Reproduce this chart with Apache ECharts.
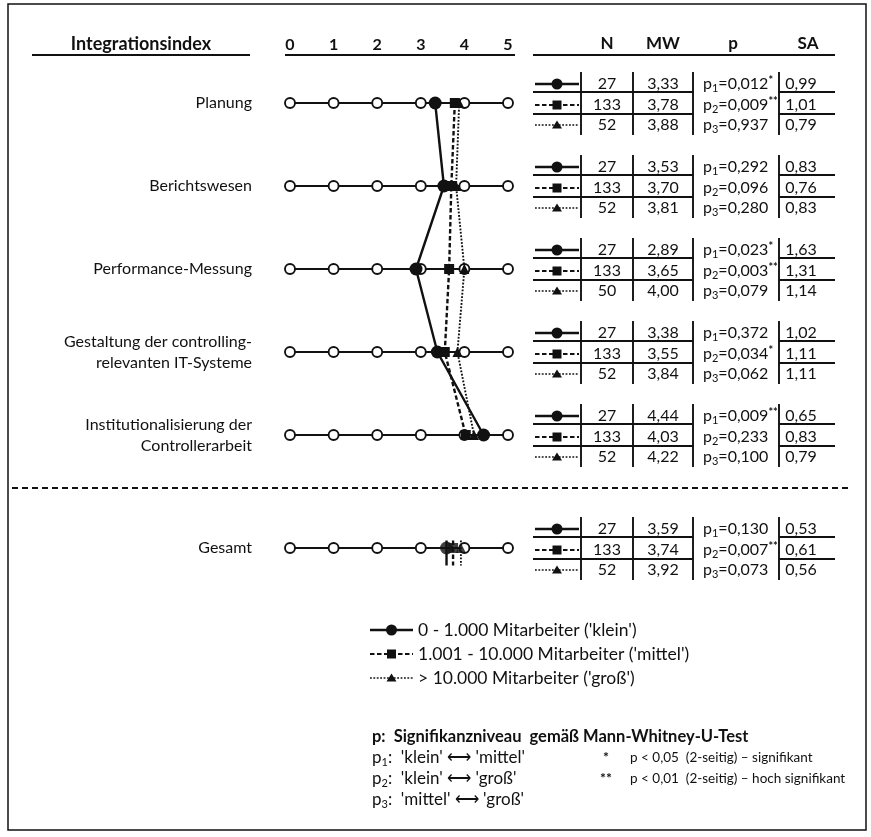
<!DOCTYPE html>
<html><head><meta charset="utf-8">
<script src="https://cdn.jsdelivr.net/npm/echarts@6/dist/echarts.min.js"></script>
<style>html,body{margin:0;padding:0;background:#fff}#c{width:871px;height:837px}</style>
</head><body><div id="c"></div>
<script>
// ---------------- DATA ----------------
const categories = ['Planung', 'Berichtswesen', 'Performance-Messung',
  'Gestaltung der controlling-\nrelevanten IT-Systeme',
  'Institutionalisierung der\nControllerarbeit'];
const totalLabel = 'Gesamt';
const tickValues = [0, 1, 2, 3, 4, 5];
const seriesNames = ["0 - 1.000 Mitarbeiter ('klein')", "1.001 - 10.000 Mitarbeiter ('mittel')", "> 10.000 Mitarbeiter ('groß')"];

// Mittelwerte (MW): 5 Kategorien, dann Gesamt
const mwKlein  = [3.33, 3.53, 2.89, 3.38, 4.44];
const mwMittel = [3.78, 3.70, 3.65, 3.55, 4.03];
const mwGross  = [3.88, 3.81, 4.00, 3.84, 4.22];
const mwTotal  = [3.59, 3.74, 3.92];

// N (incl. Gesamt als letzter Wert)
const nKlein  = [27, 27, 27, 27, 27, 27];
const nMittel = [133, 133, 133, 133, 133, 133];
const nGross  = [52, 52, 50, 52, 52, 52];

// SA (incl. Gesamt)
const saKlein  = [0.99, 0.83, 1.63, 1.02, 0.65, 0.53];
const saMittel = [1.01, 0.76, 1.31, 1.11, 0.83, 0.61];
const saGross  = [0.79, 0.83, 1.14, 1.11, 0.79, 0.56];

// p-Werte (incl. Gesamt) und Signifikanzsterne
const p1 = ['0,012', '0,292', '0,023', '0,372', '0,009', '0,130'];
const p1Sig = ['*', '', '*', '', '**', ''];
const p2 = ['0,009', '0,096', '0,003', '0,034', '0,233', '0,007'];
const p2Sig = ['**', '', '**', '*', '', '**'];
const p3 = ['0,937', '0,280', '0,079', '0,062', '0,100', '0,073'];
const p3Sig = ['', '', '', '', '', ''];

// ---------------- STYLE ----------------
const INK = '#111';
const FONT = 'Lato, "Open Sans", sans-serif';
const styles = [
  { symbol: 'circle', size: 13, width: 2.4, type: 'solid', dash: null, iconW: 2.4 },
  { symbol: 'rect', size: 10, width: 2.4, type: [4.5, 2.5], dash: [4.5, 2.5], iconW: 2.2 },
  { symbol: 'triangle', size: 10, width: 1.9, type: [1.8, 1.6], dash: [1.8, 1.6], iconW: 1.6 }
];
const mwSets = [mwKlein, mwMittel, mwGross];
const nSets = [nKlein, nMittel, nGross];
const saSets = [saKlein, saMittel, saGross];
const pSets = [p1, p2, p3];
const pSigSets = [p1Sig, p2Sig, p3Sig];
const stub = [-0.18, 0.42];   // short vertical stroke through Gesamt markers (style)

const fmt = v => v.toFixed(2).replace('.', ',');

const chart = echarts.init(document.getElementById('c'), null, { renderer: 'canvas' });

const GRID_LEFT = 290, GRID_W = 218;
const series = [];
// track lines with open circles
categories.forEach(c => series.push({
  type: 'line', xAxisIndex: 0, yAxisIndex: 0, silent: true, z: 2,
  data: tickValues.map(t => [t, c]),
  symbol: 'circle', symbolSize: 10, showSymbol: true,
  itemStyle: { color: '#fff', borderColor: INK, borderWidth: 1.9 },
  lineStyle: { color: INK, width: 1.8 }
}));
series.push({
  type: 'line', xAxisIndex: 1, yAxisIndex: 2, silent: true, z: 2,
  data: tickValues.map(t => [t, 0]),
  symbol: 'circle', symbolSize: 10,
  itemStyle: { color: '#fff', borderColor: INK, borderWidth: 1.9 },
  lineStyle: { color: INK, width: 1.8 }
});
// group profiles
mwSets.forEach((mw, k) => {
  const s = styles[k];
  series.push({
    type: 'line', name: seriesNames[k], xAxisIndex: 0, yAxisIndex: 0, z: 5 + k,
    data: categories.map((c, i) => [mw[i], c]),
    symbol: s.symbol, symbolSize: s.size,
    itemStyle: { color: INK },
    lineStyle: { color: INK, width: s.width, type: s.type }
  });
  series.push({
    type: 'line', xAxisIndex: 1, yAxisIndex: 2, z: 5 + k, symbol: 'none',
    data: [[mwTotal[k], stub[0]], [mwTotal[k], stub[1]]],
    lineStyle: { color: INK, width: s.width, type: s.type }
  });
  series.push({
    type: 'scatter', xAxisIndex: 1, yAxisIndex: 2, z: 8 + k,
    data: [[mwTotal[k], 0]], symbol: s.symbol, symbolSize: s.size,
    itemStyle: { color: INK }
  });
});

const option = {
  animation: false,
  backgroundColor: '#fff',
  textStyle: { fontFamily: FONT, color: INK },
  grid: [
    { left: GRID_LEFT, width: GRID_W, top: 61.5, height: 415 },
    { left: GRID_LEFT, width: GRID_W, top: 506.5, height: 83 }
  ],
  xAxis: [
    { gridIndex: 0, type: 'value', min: 0, max: 5, interval: 1, position: 'top',
      axisLine: { show: false }, axisTick: { show: false }, splitLine: { show: false },
      axisLabel: { margin: 9, fontFamily: FONT, fontWeight: 'bold', fontSize: 16, color: INK } },
    { gridIndex: 1, type: 'value', min: 0, max: 5, show: false }
  ],
  yAxis: [
    { gridIndex: 0, type: 'category', inverse: true, data: categories,
      axisLine: { show: false }, axisTick: { show: false }, splitLine: { show: false },
      axisLabel: { margin: 38, fontFamily: FONT, fontSize: 16, color: INK, lineHeight: 21, align: 'right' } },
    { gridIndex: 1, type: 'category', data: [totalLabel],
      axisLine: { show: false }, axisTick: { show: false }, splitLine: { show: false },
      axisLabel: { margin: 38, fontFamily: FONT, fontSize: 16, color: INK } },
    { gridIndex: 1, type: 'value', min: -1, max: 1, inverse: true, show: false }
  ],
  series
};
chart.setOption(option);

// ---------------- TABLE + TEXT (graphic) ----------------
const G = [];
const line = (x1, y1, x2, y2, w, dash) => G.push({ type: 'line', silent: true,
  shape: { x1, y1, x2, y2 }, style: { stroke: INK, lineWidth: w || 1.9, lineDash: dash || null } });
const text = (t, x, y, o) => G.push({ type: 'text', silent: true, style: Object.assign({
  text: t, x, y, fill: INK, fontFamily: FONT, fontSize: 16, align: 'left', verticalAlign: 'middle' }, o || {}) });
const icon = (k, x0, x1, y) => {
  const s = styles[k];
  line(x0, y, x1, y, s.iconW, s.dash);
  const cx = (x0 + x1) / 2;
  if (k === 0) G.push({ type: 'circle', silent: true, shape: { cx, cy: y, r: 5.5 }, style: { fill: INK } });
  if (k === 1) G.push({ type: 'rect', silent: true, shape: { x: cx - 4.5, y: y - 4.5, width: 9, height: 9 }, style: { fill: INK } });
  if (k === 2) G.push({ type: 'polygon', silent: true, shape: { points: [[cx - 5, y + 3.5], [cx + 5, y + 3.5], [cx, y - 4.5]] }, style: { fill: INK } });
};
const pRich = {
  a: { fontFamily: FONT, fontSize: 16, lineHeight: 19, fill: INK, verticalAlign: 'middle' },
  s: { fontFamily: FONT, fontSize: 11, lineHeight: 11, fill: INK, verticalAlign: 'bottom' },
  u: { fontFamily: FONT, fontSize: 11, fontWeight: 'bold', lineHeight: 10, fill: INK, verticalAlign: 'top' }
};

// frame
G.push({ type: 'rect', silent: true, shape: { x: 8, y: 4, width: 858, height: 826 }, style: { fill: 'none', stroke: INK, lineWidth: 1.5 } });

// header
text('Integrationsindex', 141, 44, { align: 'center', fontWeight: 'bold', fontSize: 18 });
line(32, 55, 250, 55, 2.2);
line(285, 55, 515, 55, 2.2);
line(533, 55, 835, 55, 2.2);
text('N', 607, 44, { align: 'center', fontWeight: 'bold', fontSize: 17 });
text('MW', 663, 44, { align: 'center', fontWeight: 'bold', fontSize: 17 });
text('p', 733, 44, { align: 'center', fontWeight: 'bold', fontSize: 17 });
text('SA', 808, 44, { align: 'center', fontWeight: 'bold', fontSize: 17 });

// separator
line(12, 488, 850, 488, 1.8, [6, 4]);

// table blocks
const rowOff = [-19, 2, 22];
const groupY = categories.map(c => chart.convertToPixel({ yAxisIndex: 0 }, c));
groupY.push(chart.convertToPixel({ yAxisIndex: 2 }, 0));
groupY.forEach((gy, gi) => {
  [581, 633, 693, 779].forEach(x => line(x, gy - 31, x, gy + 32, 1.9));
  [-11, 11].forEach(o => { line(533, gy + o, 693, gy + o, 1.9); line(779, gy + o, 835, gy + o, 1.9); });
  for (let k = 0; k < 3; k++) {
    const y = gy + rowOff[k];
    icon(k, 535, 579, y);
    text(String(nSets[k][gi]), 607, y, { align: 'center' });
    const mwv = gi < 5 ? mwSets[k][gi] : mwTotal[k];
    text(fmt(mwv), 663, y, { align: 'center' });
    const sig = pSigSets[k][gi];
    G.push({ type: 'text', silent: true, style: { x: 703, y, verticalAlign: 'middle', align: 'left',
      text: '{a|p}{s|' + (k + 1) + '}{a|=' + pSets[k][gi] + '}' + (sig ? '{u|' + sig + '}' : ''), rich: pRich } });
    text(fmt(saSets[k][gi]), 801, y, { align: 'center' });
  }
});

// legend
const legY = [630, 654, 678];
for (let k = 0; k < 3; k++) {
  icon(k, 370, 413, legY[k]);
  text(seriesNames[k], 418, legY[k], { fontSize: 17.5 });
}

// footnotes
text('p:  Signifikanzniveau  gemäß Mann-Whitney-U-Test', 372, 737, { fontWeight: 'bold', fontSize: 16.5 });
const fnY = [758, 779, 800];
const fnText = ["'klein' \u27F7 'mittel'", "'klein' \u27F7 'groß'", "'mittel' \u27F7 'groß'"];
const richF = {
  a: { fontFamily: FONT, fontSize: 17, lineHeight: 19, fill: INK, verticalAlign: 'middle' },
  s: { fontFamily: FONT, fontSize: 11, lineHeight: 11, fill: INK, verticalAlign: 'bottom' }
};
fnY.forEach((y, i) => G.push({ type: 'text', silent: true, style: { x: 372, y, verticalAlign: 'middle',
  text: '{a|p}{s|' + (i + 1) + '}{a|:  ' + fnText[i] + '}', rich: richF } }));
text('*', 606, 757, { fontSize: 14, fontWeight: 'bold', align: 'center' });
text('p < 0,05  (2-seitig) \u2013 signifikant', 630, 758, { fontSize: 13.5 });
text('**', 606, 778, { fontSize: 14, fontWeight: 'bold', align: 'center' });
text('p < 0,01  (2-seitig) \u2013 hoch signifikant', 630, 779, { fontSize: 13.5 });

chart.setOption({ graphic: { elements: G } });
</script></body></html>
